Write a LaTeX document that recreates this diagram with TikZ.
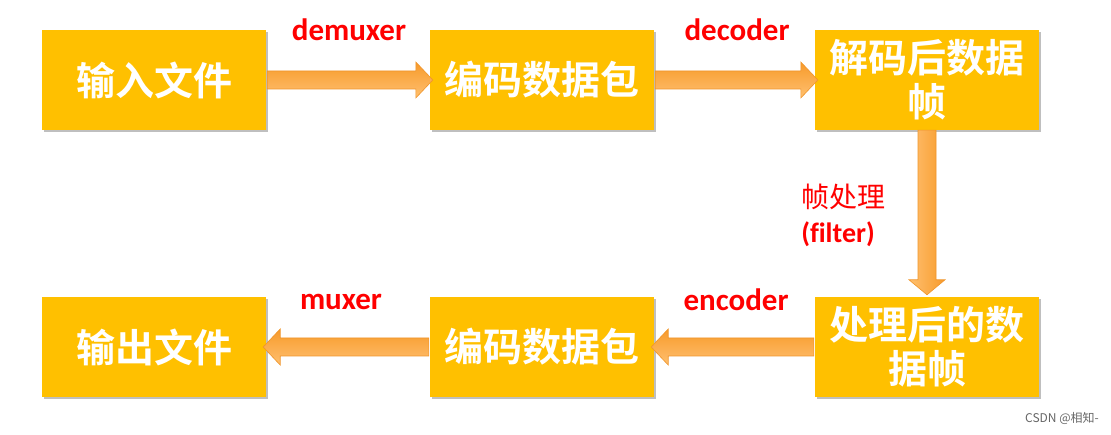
\documentclass[tikz,border=0pt]{standalone}
\usepackage{fontspec}
\newfontfamily\cjk{Noto Sans CJK SC}
\newfontfamily\cjkb{Noto Sans CJK SC Bold}
\newfontfamily\lab[Ligatures=NoCommon]{Carlito}
\usetikzlibrary{calc,shadows}
\definecolor{boxgold}{HTML}{FFC000}
\definecolor{arrdark}{HTML}{F79A2A}
\definecolor{arrlight}{HTML}{FFC070}
\definecolor{arredge}{HTML}{F0952A}
\definecolor{labred}{HTML}{FF0000}
\tikzset{
  box/.style={fill=boxgold, minimum width=224pt, minimum height=100pt, inner sep=0pt,
    text=white, font=\cjkb\fontsize{39}{44}\selectfont, align=center,
    drop shadow={shadow xshift=1.5pt, shadow yshift=-2.5pt, opacity=0.25, fill=black}},
  hlab/.style={text=labred, font=\lab\bfseries\fontsize{31}{34}\selectfont, inner sep=0pt},
  harrow/.style={top color=arrdark, bottom color=arrlight, draw=arredge, line width=0.6pt},
  varrow/.style={left color=arrlight, right color=arrdark, draw=arredge, line width=0.6pt}
}
\begin{document}
\begin{tikzpicture}[x=1pt,y=-1pt]
\useasboundingbox[fill=white] (0,0) rectangle (1111,435);
% boxes
\node[box] (in) at (154,80) {输入文件};
\node[box] (pk1) at (542,80) {编码数据包};
\node[box] (fr1) at (927,80) {解码后数据\\帧};
\node[box] (out) at (154,347) {输出文件};
\node[box] (pk2) at (542,347) {编码数据包};
\node[box] (fr2) at (927,347) {处理后的数\\据帧};
% arrow in -> pk1
\path[harrow] ($(in.east)+(1,-9)$) -- ($(pk1.west)+(-14,-9)$) -- ($(pk1.west)+(-14,-18)$)
  -- ($(pk1.west)+(3,0)$) -- ($(pk1.west)+(-14,18)$) -- ($(pk1.west)+(-14,9)$)
  -- ($(in.east)+(1,9)$) -- cycle;
% arrow pk1 -> fr1
\path[harrow] ($(pk1.east)+(1,-9)$) -- ($(fr1.west)+(-14,-9)$) -- ($(fr1.west)+(-14,-18)$)
  -- ($(fr1.west)+(3,0)$) -- ($(fr1.west)+(-14,18)$) -- ($(fr1.west)+(-14,9)$)
  -- ($(pk1.east)+(1,9)$) -- cycle;
% arrow fr1 -> fr2 (vertical)
\path[varrow] ($(fr1.south)+(-9,0)$) -- ($(fr2.north)+(-9,-17)$) -- ($(fr2.north)+(-18,-17)$)
  -- ($(fr2.north)+(0,-2)$) -- ($(fr2.north)+(18,-17)$) -- ($(fr2.north)+(9,-17)$)
  -- ($(fr1.south)+(9,0)$) -- cycle;
% arrow fr2 -> pk2
\path[harrow] ($(fr2.west)+(-1,-9)$) -- ($(pk2.east)+(14,-9)$) -- ($(pk2.east)+(14,-18)$)
  -- ($(pk2.east)+(-3,0)$) -- ($(pk2.east)+(14,18)$) -- ($(pk2.east)+(14,9)$)
  -- ($(fr2.west)+(-1,9)$) -- cycle;
% arrow pk2 -> out
\path[harrow] ($(pk2.west)+(-1,-9)$) -- ($(out.east)+(14,-9)$) -- ($(out.east)+(14,-18)$)
  -- ($(out.east)+(-3,0)$) -- ($(out.east)+(14,18)$) -- ($(out.east)+(14,9)$)
  -- ($(pk2.west)+(-1,9)$) -- cycle;
% labels
\node[hlab] (l1) at (349,30) {demuxer};
\node[hlab] (l2) at (737,30) {decoder};
\node[hlab] (l3) at (736,300) {encoder};
\node[hlab] (l4) at (341,302) {muxer};
\node[text=labred, font=\cjk\fontsize{28}{30}\selectfont, inner sep=0pt] (l5) at (843,197) {帧处理};
\node[text=labred, font=\lab\bfseries\fontsize{28}{30}\selectfont, inner sep=0pt] (l6) at (838,234) {(filter)};
% watermark
\node[text=black!60, font=\cjk\fontsize{12}{14}\selectfont, inner sep=0pt] (wm) at (1062,418) {CSDN @相知-};
\end{tikzpicture}
\end{document}
